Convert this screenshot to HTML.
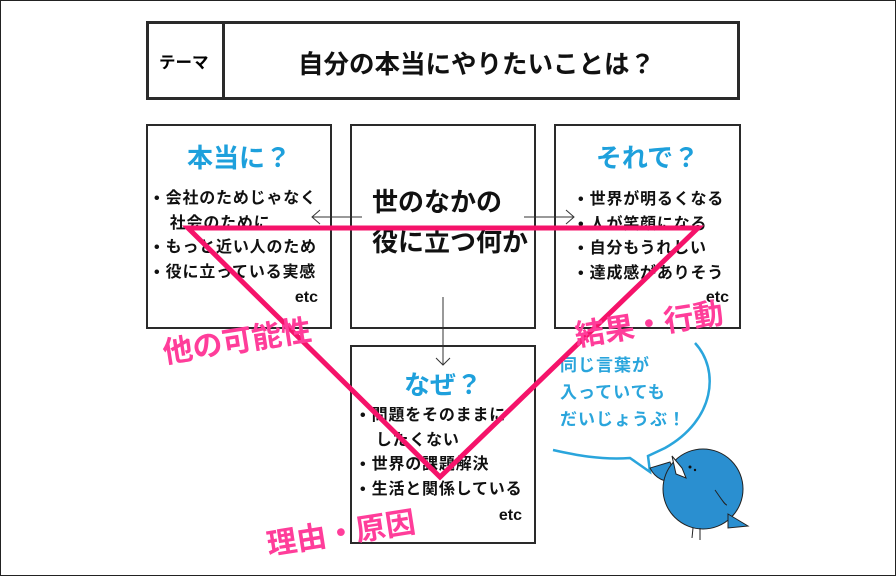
<!DOCTYPE html>
<html><head><meta charset="utf-8"><style>
*{margin:0;padding:0;box-sizing:border-box}
body{width:896px;height:576px;background:#fff;position:relative;overflow:hidden;font-family:"Liberation Sans","Noto Sans CJK JP",sans-serif;font-weight:bold}
.frame{position:absolute;left:0;top:0;width:896px;height:576px;border:1px solid #222}
.box{position:absolute;border:2px solid #2a2a2a;background:#fff}
.h{position:absolute;color:#1ea0dc;font-size:26px;text-align:center;width:100%}
.ul{position:absolute;font-size:16px;line-height:24.5px;color:#111;white-space:nowrap;letter-spacing:0.8px}
.etc{position:absolute;font-size:16px;color:#111}
.pk{position:absolute;color:#ff3d9a;font-size:30px;transform:rotate(-9deg);transform-origin:left bottom;white-space:nowrap}
</style></head><body>
<div class="frame"></div>
<div class="box" style="left:146px;top:21px;width:594px;height:79px;border-width:3px"></div>
<div style="position:absolute;left:222px;top:22px;width:3px;height:77px;background:#2a2a2a"></div>
<div style="position:absolute;left:159px;top:49px;font-size:16.5px">テーマ</div>
<div style="position:absolute;left:298px;top:44px;font-size:25.5px;color:#111">自分の本当にやりたいことは？</div>

<div class="box" style="left:146px;top:124px;width:186px;height:205px">
<div class="h" style="top:12px">本当に？</div>
<div class="ul" style="left:6px;top:61px">• 会社のためじゃなく<br>&nbsp;&nbsp;&nbsp;社会のために<br>• もっと近い人のため<br>• 役に立っている実感</div>
<div class="etc" style="right:12px;top:163px">etc</div></div>

<div class="box" style="left:350px;top:124px;width:186px;height:205px">
<div style="position:absolute;left:20px;top:56px;font-size:26px;line-height:40px;color:#111;white-space:nowrap">世のなかの<br>役に立つ何か</div></div>

<div class="box" style="left:554px;top:124px;width:187px;height:205px">
<div class="h" style="top:12px">それで？</div>
<div class="ul" style="left:22px;top:62px">• 世界が明るくなる<br>• 人が笑顔になる<br>• 自分もうれしい<br>• 達成感がありそう</div>
<div class="etc" style="right:10px;top:163px">etc</div></div>

<div class="box" style="left:350px;top:345px;width:186px;height:199px">
<div class="h" style="top:18px">なぜ？</div>
<div class="ul" style="left:8px;top:57px">• 問題をそのままに<br>&nbsp;&nbsp;&nbsp;したくない<br>• 世界の課題解決<br>• 生活と関係している</div>
<div class="etc" style="right:12px;top:160px">etc</div></div>

<div style="position:absolute;left:560px;top:352px;color:#2aa5dc;font-size:17px;line-height:27px;letter-spacing:1px;font-weight:bold">同じ言葉が<br>入っていても<br>だいじょうぶ！</div>

<svg width="896" height="576" style="position:absolute;left:0;top:0">
<g stroke="#333" stroke-width="1" fill="none">
<line x1="362" y1="217" x2="312" y2="217"/><polyline points="320,210 312,217 320,224"/>
<line x1="524" y1="217" x2="574" y2="217"/><polyline points="566,210 574,217 566,224"/>
<line x1="443" y1="297" x2="443" y2="365"/><polyline points="436,358 443,365 450,358"/>
</g>
<path d="M695,343 C720,370 715,420 665,448 L648,456 L650,472 L630,458 C600,460 575,455 553,450" fill="none" stroke="#2aa5dc" stroke-width="2.5"/>
<polygon points="188,228 698,228 440,477" fill="none" stroke="#f5136a" stroke-width="5" stroke-linejoin="miter"/>
<g stroke="#222" stroke-width="1">
<path d="M670,462 L650,468 C655,478 665,484 677,480 Z" fill="#2a8fd0"/>
<circle cx="703" cy="489" r="40" fill="#2a8fd0"/>
<path d="M728,514 L748,526 L728,528 Z" fill="#2a8fd0"/>
<path d="M672,456 L682,468 L686,478 L676,474 Z" fill="#fff"/>
<path d="M715,490 C722,500 725,505 727,505" fill="none"/>
<line x1="693" y1="528" x2="692" y2="538"/><line x1="700" y1="528" x2="700" y2="540"/>
</g>
<circle cx="690" cy="467" r="1.5" fill="#111"/><circle cx="695" cy="470" r="1.2" fill="#111"/>
</svg>

<div class="pk" style="left:166px;top:328px">他の可能性</div>
<div class="pk" style="left:578px;top:311px">結果・行動</div>
<div class="pk" style="left:270px;top:520px">理由・原因</div>
</body></html>
